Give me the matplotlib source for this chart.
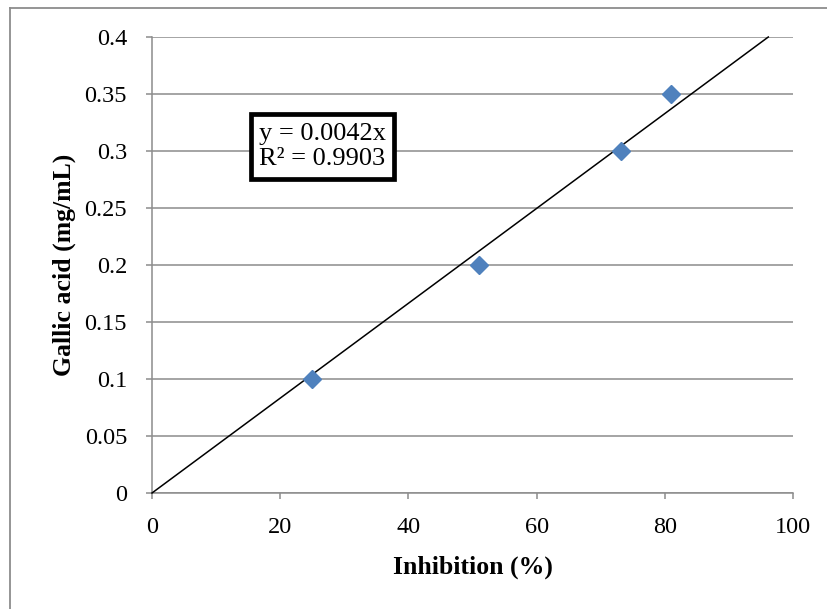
import matplotlib
matplotlib.use("Agg")
import matplotlib.pyplot as plt
from matplotlib.lines import Line2D
import numpy as np

# Data
inhibition = [25.0, 51.0, 73.2, 81.0]
gallic_acid = [0.10, 0.20, 0.30, 0.35]
x_ticks = [0, 20, 40, 60, 80, 100]
y_ticks = [0, 0.05, 0.1, 0.15, 0.2, 0.25, 0.3, 0.35, 0.4]
y_tick_labels = ["0", "0.05", "0.1", "0.15", "0.2", "0.25", "0.3", "0.35", "0.4"]
x_label = "Inhibition (%)"
y_label = "Gallic acid (mg/mL)"
eq_text = "y = 0.0042x\nR² = 0.9903"

plt.rcParams['font.family'] = ['Liberation Serif', 'DejaVu Serif']

W, H = 827, 609
fig = plt.figure(figsize=(W / 100, H / 100), dpi=100)
ax = fig.add_axes([152 / W, 1 - 493 / H, (793 - 152) / W, (493 - 37) / H])

grid_c = '#8c8c8c'
ax.set_xlim(0, 100)
ax.set_ylim(0, 0.4)
ax.set_xticks(x_ticks)
ax.set_yticks(y_ticks)
ax.set_yticklabels(y_tick_labels)
ax.yaxis.grid(True, color=grid_c, linewidth=1.1)
ax.set_axisbelow(True)
for s in ['top', 'right']:
    ax.spines[s].set_visible(False)
for s in ['left', 'bottom']:
    ax.spines[s].set_color(grid_c)
    ax.spines[s].set_linewidth(1.1)
ax.tick_params(axis='both', direction='out', length=4, width=1.1, color=grid_c,
               labelsize=17.5, labelcolor='black')
ax.tick_params(axis='y', pad=14)
ax.tick_params(axis='x', pad=13)

# Trendline through origin (least squares from data)
xa = np.array(inhibition)
ya = np.array(gallic_acid)
slope = np.sum(xa * ya) / np.sum(xa * xa)
x_end = 0.4 / slope
ax.plot([0, x_end], [0, slope * x_end], color='black', linewidth=1.1, zorder=3,
        clip_on=False)

ax.plot(inhibition, gallic_acid, linestyle='none', marker='D', markersize=9.3,
        color='#4f81bd', markeredgecolor='#4f81bd', zorder=4)

ax.set_xlabel(x_label, fontsize=18.5, fontweight='bold', labelpad=13)
ax.set_ylabel(y_label, fontsize=18.5, fontweight='bold', labelpad=6)

ax.text((259 - 152) / 641, (493 - 146.5) / 456, eq_text, transform=ax.transAxes,
        ha='left', va='center', fontsize=19, linespacing=1.2, zorder=5,
        bbox=dict(boxstyle='square,pad=0.32', facecolor='white',
                  edgecolor='black', linewidth=3.4))

# Outer border
fig.add_artist(Line2D([10 / W, 10 / W], [0, 1 - 8 / H], transform=fig.transFigure,
                      color='#8c8c8c', linewidth=1.3))
fig.add_artist(Line2D([10 / W, 1], [1 - 8 / H, 1 - 8 / H], transform=fig.transFigure,
                      color='#8c8c8c', linewidth=1.3))

fig.savefig('out.png', dpi=100)
